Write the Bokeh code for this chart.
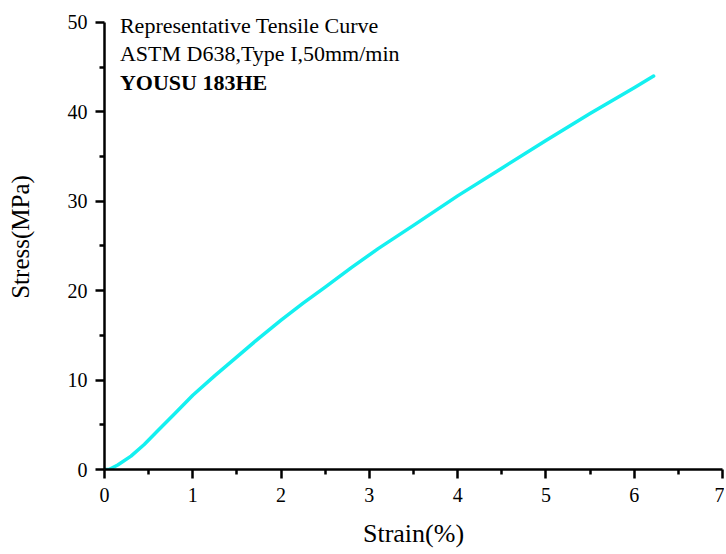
from bokeh.plotting import figure
from bokeh.models import Range1d, Label, FixedTicker
from bokeh.embed import file_html
from bokeh.resources import INLINE

strain = [0.0, 0.05, 0.15, 0.3, 0.45, 0.6, 0.8, 1.0, 1.25, 1.5, 1.75, 2.0, 2.25, 2.5, 2.8, 3.1, 3.5, 4.0, 4.5, 5.0, 5.5, 6.0, 6.22]
stress = [0.0, 0.0, 0.5, 1.5, 2.8, 4.3, 6.3, 8.3, 10.5, 12.6, 14.7, 16.7, 18.6, 20.4, 22.6, 24.7, 27.3, 30.6, 33.7, 36.8, 39.8, 42.7, 44.0]

x_ticks = [0, 1, 2, 3, 4, 5, 6, 7]
y_ticks = [0, 10, 20, 30, 40, 50]
x_minor = [0.5, 1.5, 2.5, 3.5, 4.5, 5.5, 6.5]
y_minor = [5, 15, 25, 35, 45]

notes = ["Representative Tensile Curve", "ASTM D638,Type I,50mm/min", "YOUSU 183HE"]
note_y = [49.6, 46.5, 43.3]

FONT = "Liberation Serif"

p = figure(width=724, height=550, output_backend="svg", toolbar_location=None,
           x_range=Range1d(0, 7), y_range=Range1d(0, 52),
           min_border_left=104, min_border_right=2, min_border_top=4, min_border_bottom=78)
p.outline_line_color = None
p.grid.visible = False
p.background_fill_color = "white"
p.border_fill_color = "white"

p.line(strain, stress, line_color="#14F0F0", line_width=3.5, line_cap="round", line_join="round")

for ax, major, minor in ((p.xaxis[0], x_ticks, x_minor), (p.yaxis[0], y_ticks, y_minor)):
    ax.ticker = FixedTicker(ticks=major, minor_ticks=minor)
    ax.axis_line_width = 2.5
    ax.major_tick_line_width = 2.5
    ax.minor_tick_line_width = 2.5
    ax.major_tick_out = 9
    ax.major_tick_in = 0
    ax.minor_tick_out = 5
    ax.minor_tick_in = 0
    ax.major_label_text_font = FONT
    ax.major_label_text_font_size = "20px"
    ax.major_label_text_color = "black"
    ax.axis_label_text_font = FONT
    ax.axis_label_text_font_style = "normal"
    ax.axis_label_text_color = "black"

p.yaxis.bounds = (0, 50)
p.xaxis.axis_label = "Strain(%)"
p.yaxis.axis_label = "Stress(MPa)"
p.xaxis.axis_label_text_font_size = "26px"
p.yaxis.axis_label_text_font_size = "25px"
p.xaxis.major_label_standoff = 9
p.yaxis.major_label_standoff = 8
p.xaxis.axis_label_standoff = 14
p.yaxis.axis_label_standoff = 31

for t, yy, i in zip(notes, note_y, range(len(notes))):
    p.add_layout(Label(x=0.175, y=yy, text=t,
                       text_font=FONT, text_font_size="22px",
                       text_font_style="bold" if i == 2 else "normal",
                       text_baseline="alphabetic", text_color="black"))

open("out.html", "w").write(file_html(p, INLINE))
